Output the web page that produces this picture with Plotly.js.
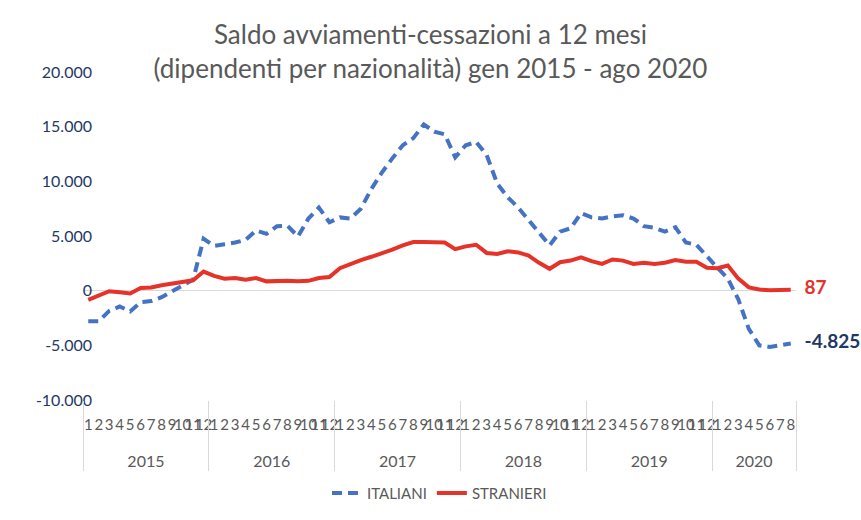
<!DOCTYPE html>
<html>
<head>
<meta charset="utf-8">
<script src="https://cdn.plot.ly/plotly-3.0.1.min.js"></script>
<style>html,body{margin:0;padding:0;background:#fff;}#chart{width:861px;height:520px;}</style>
</head>
<body>
<div id="chart"></div>
<script>
// Years and month labels of the category axis
const years = ['2015', '2016', '2017', '2018', '2019', '2020'];
const monthsPerYear = [12, 12, 12, 12, 12, 8];
const monthLabels = ['1','2','3','4','5','6','7','8','9','10','11','12'];

// Saldo avviamenti-cessazioni a 12 mesi, gen 2015 - ago 2020
const italiani = [
  -2800, -2800, -1850, -1450, -1900, -1050, -950, -600, -50, 500, 1000, 4750,
  4100, 4250, 4400, 4650, 5500, 5200, 5900, 5950, 4950, 6600, 7600, 6250,
  6700, 6600, 7500, 9300, 10800, 12100, 13300, 13950, 15200, 14550, 14300, 12200,
  13300, 13600, 12400, 9800, 8550, 7600, 6500, 5300, 4150, 5400, 5700, 7100,
  6700, 6600, 6800, 6900, 6600, 5900, 5750, 5400, 5800, 4400, 4200, 3100,
  2100, 1100, -800, -3500, -5000, -5150, -4950, -4825
];
const stranieri = [
  -850, -450, -50, -150, -250, 250, 300, 500, 650, 850, 950, 1750,
  1350, 1100, 1150, 1000, 1150, 850, 900, 900, 850, 900, 1150, 1250,
  2050, 2450, 2800, 3100, 3400, 3750, 4150, 4450, 4450, 4400, 4400, 3800,
  4050, 4200, 3450, 3350, 3600, 3500, 3200, 2550, 2000, 2600, 2750, 3050,
  2700, 2450, 2850, 2750, 2450, 2550, 2450, 2550, 2800, 2650, 2650, 2100,
  2050, 2300, 1100, 300, 100, 30, 40, 87
];

// Y axis ticks
const yTickVals = [-10000, -5000, 0, 5000, 10000, 15000, 20000];
const yTickText = ['-10.000', '-5.000', '0', '5.000', '10.000', '15.000', '20.000'];

function fmt(v) {
  const s = Math.abs(v).toString().replace(/\B(?=(\d{3})+(?!\d))/g, '.');
  return (v < 0 ? '-' : '') + s;
}

// Build categories (one per month) from years and months
const cats = [], catMonth = [], catIndex = [];
const yearCenters = [], yearBounds = [-0.5];
let idx = 0;
years.forEach((y, k) => {
  const n = monthsPerYear[k];
  for (let m = 0; m < n; m++) {
    cats.push(y + '-' + monthLabels[m]); catMonth.push(monthLabels[m]); catIndex.push(idx + m);
  }
  yearCenters.push(idx + (n - 1) / 2);
  idx += n;
  yearBounds.push(idx - 0.5);
});
const xr = [-0.5, cats.length - 0.5];

const PAD = '\u00a0\u00a0\u00a0';
function lastLabel(arr) {
  return arr.map((v, i) => i === arr.length - 1 ? PAD + fmt(v) : '');
}

const FONT = 'Lato, "Open Sans", sans-serif';

const traces = [
  {
    x: cats, y: italiani, name: 'ITALIANI', type: 'scatter', mode: 'lines+text',
    line: {color: '#4472C4', width: 4, dash: '10px,6px'},
    text: lastLabel(italiani), textposition: 'middle right',
    textfont: {family: FONT, size: 19, color: '#1F3864', weight: 'bold'},
    cliponaxis: false, hoverinfo: 'skip'
  },
  {
    x: cats, y: stranieri, name: 'STRANIERI', type: 'scatter', mode: 'lines+text',
    line: {color: '#E5332A', width: 4},
    text: lastLabel(stranieri), textposition: 'middle right',
    textfont: {family: FONT, size: 19, color: '#E5332A', weight: 'bold'},
    cliponaxis: false, hoverinfo: 'skip'
  },
  // invisible carriers so that the year-divider and year-label axes get drawn
  {
    x: catIndex, y: italiani, xaxis: 'x2', type: 'scatter', mode: 'lines',
    line: {width: 0}, opacity: 0, showlegend: false, hoverinfo: 'skip'
  },
  {
    x: catIndex, y: stranieri, xaxis: 'x3', type: 'scatter', mode: 'lines',
    line: {width: 0}, opacity: 0, showlegend: false, hoverinfo: 'skip'
  }
];

const layout = {
  width: 861, height: 520,
  margin: {l: 83, r: 65, t: 72, b: 120, autoexpand: false},
  paper_bgcolor: '#ffffff', plot_bgcolor: '#ffffff',
  font: {family: FONT, color: '#595959'},
  title: {
    text: 'Saldo avviamenti-cessazioni a 12 mesi<br>(dipendenti per nazionalità) gen 2015 - ago 2020',
    font: {family: FONT, size: 26, color: '#595959'},
    x: 0.5, xanchor: 'center', xref: 'container',
    y: 0.915, yanchor: 'middle', yref: 'container'
  },
  xaxis: {
    type: 'category', categoryorder: 'array', categoryarray: cats, range: xr,
    tickmode: 'array', tickvals: cats, ticktext: catMonth, tickangle: 0,
    showgrid: false, showline: false, zeroline: false, automargin: false,
    ticks: '', ticklabelstandoff: 14, tickfont: {family: FONT, size: 15, color: '#595959'}
  },
  xaxis2: {
    overlaying: 'x', anchor: 'y', side: 'bottom', range: xr, type: 'linear',
    tickmode: 'array', tickvals: yearBounds, showticklabels: false,
    ticks: 'outside', ticklen: 70, tickwidth: 1, tickcolor: '#d9d9d9',
    showgrid: false, showline: false, zeroline: false, automargin: false
  },
  xaxis3: {
    overlaying: 'x', anchor: 'y', side: 'bottom', range: xr, type: 'linear',
    tickmode: 'array', tickvals: yearCenters, ticktext: years, tickangle: 0,
    ticks: '', ticklabelstandoff: 50, tickfont: {family: FONT, size: 16, color: '#595959'},
    showgrid: false, showline: false, zeroline: false, automargin: false
  },
  yaxis: {
    range: [-10000, 20000], tickmode: 'array', tickvals: yTickVals, ticktext: yTickText,
    showgrid: false, zeroline: true, zerolinecolor: '#d9d9d9', zerolinewidth: 1,
    showline: false, ticks: '', automargin: false, ticklabelstandoff: -10,
    tickfont: {family: FONT, size: 16, color: '#1F3864'}
  },
  showlegend: true,
  legend: {
    orientation: 'h', x: 0.5, xanchor: 'center', y: -0.284, yanchor: 'middle',
    font: {family: FONT, size: 15, color: '#595959'}, traceorder: 'normal'
  }
};

Plotly.newPlot('chart', traces, layout, {displayModeBar: false, staticPlot: true});
</script>
</body>
</html>
